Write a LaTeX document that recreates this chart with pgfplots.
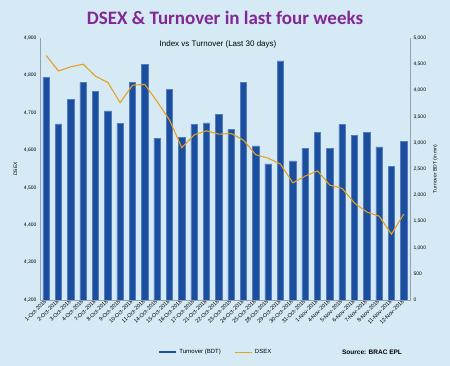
\documentclass[border=0pt]{standalone}
\usepackage{pgfplots}
\usepackage{pgfplotstable}
\pgfplotsset{compat=1.18}
\usepackage{fontspec}
\setmainfont{Liberation Sans}
\newfontfamily\titlefont{Carlito}
\definecolor{bg}{RGB}{214,234,246}
\definecolor{barblue}{RGB}{28,78,158}
\definecolor{baredge}{RGB}{80,125,195}
\definecolor{lineor}{RGB}{232,160,32}
\definecolor{ttl}{RGB}{130,40,150}
\definecolor{axgray}{RGB}{150,160,170}

\pgfplotstableread{
x turnover dsex
0  4244 4853
1  3360 4812
2  3827 4823
3  4148 4830
4  3981 4798
5  3610 4781
6  3371 4727
7  4160 4774
8  4500 4776
9  3083 4730
10 4019 4681
11 3102 4607
12 3346 4641
13 3379 4652
14 3538 4643
15 3256 4645
16 4154 4627
17 2942 4588
18 2596 4579
19 4563 4563
20 2654 4513
21 2898 4531
22 3192 4545
23 2898 4507
24 3346 4498
25 3148 4459
26 3198 4435
27 2923 4424
28 2544 4376
29 3033 4430
}\data

\begin{document}
\begin{tikzpicture}
\fill[bg] (0pt,0pt) rectangle (450pt,366pt);
\useasboundingbox (0pt,0pt) rectangle (450pt,366pt);
\node[font=\titlefont\bfseries\fontsize{19}{20}\selectfont, text=ttl] at (225pt,348pt) {DSEX \& Turnover in last four weeks};
\node[font=\fontsize{8}{9}\selectfont] at (218pt,322pt) {Index vs Turnover (Last 30 days)};
\node[font=\bfseries\fontsize{6.5}{7}\selectfont] at (372pt,14pt) {Source: BRAC EPL};

\begin{axis}[
  at={(40pt,66pt)}, anchor=south west, scale only axis,
  width=370pt, height=262pt,
  xmin=-0.5, xmax=29.5, ymin=0, ymax=5000,
  axis line style={draw=none},
  xtick pos=bottom, yticklabel pos=right, ytick pos=right,
  ybar, bar width=6.5pt,
  ytick={0,500,...,5000},
  scaled y ticks=false,
  /pgf/number format/1000 sep={,},
  /pgf/number format/assume math mode=true,
  y tick label style={font=\fontsize{5}{6}\selectfont},
  major tick length=0pt,
  xtick={0,...,29},
  xticklabels={1-Oct-2018,2-Oct-2018,3-Oct-2018,4-Oct-2018,7-Oct-2018,8-Oct-2018,9-Oct-2018,10-Oct-2018,11-Oct-2018,14-Oct-2018,15-Oct-2018,16-Oct-2018,17-Oct-2018,21-Oct-2018,22-Oct-2018,23-Oct-2018,24-Oct-2018,25-Oct-2018,28-Oct-2018,29-Oct-2018,30-Oct-2018,31-Oct-2018,1-Nov-2018,4-Nov-2018,5-Nov-2018,6-Nov-2018,7-Nov-2018,8-Nov-2018,11-Nov-2018,12-Nov-2018},
  x tick label style={rotate=45, anchor=east, font=\fontsize{5.5}{6}\selectfont, inner sep=1pt},
  ylabel={Turnover BDT (in mn)},
  ylabel style={font=\fontsize{5}{6}\selectfont},
  clip=false,
]
\addplot[fill=barblue, draw=baredge, line width=0.6pt] table[x=x, y=turnover] {\data};
\draw[axgray, line width=0.4pt] (rel axis cs:0,1) -- (rel axis cs:0,0) -- (rel axis cs:1,0) -- (rel axis cs:1,1);
\end{axis}

\begin{axis}[
  at={(40pt,66pt)}, anchor=south west, scale only axis,
  width=370pt, height=262pt,
  xmin=-0.5, xmax=29.5, ymin=4200, ymax=4900,
  axis line style={draw=none},
  hide x axis,
  yticklabel pos=left, ytick pos=left,
  ytick={4200,4300,...,4900},
  scaled y ticks=false,
  /pgf/number format/1000 sep={,},
  /pgf/number format/assume math mode=true,
  y tick label style={font=\fontsize{5}{6}\selectfont},
  major tick length=0pt,
  ylabel={DSEX},
  ylabel style={font=\fontsize{5}{6}\selectfont},
  legend style={at={(0.475,-0.2)}, anchor=center, draw=none, fill=none,
    font=\fontsize{6}{7}\selectfont, legend columns=2,
    /tikz/every even column/.append style={column sep=12pt}},
]
\addlegendimage{barblue, line width=2pt}
\addlegendentry{Turnover (BDT)}
\addplot[lineor, line width=1.1pt, no markers] table[x=x, y=dsex] {\data};
\addlegendentry{DSEX}
\end{axis}
\end{tikzpicture}
\end{document}
